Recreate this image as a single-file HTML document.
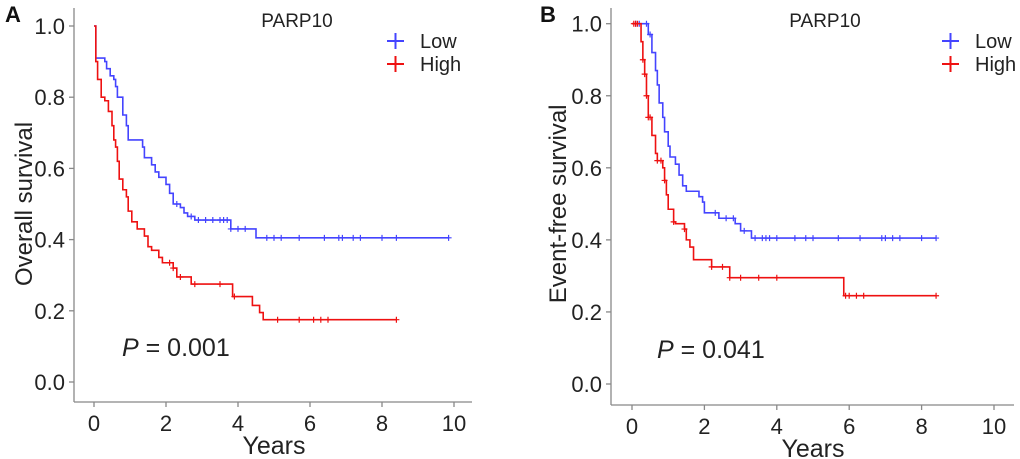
<!DOCTYPE html>
<html><head><meta charset="utf-8"><style>
html,body{margin:0;padding:0;background:#fff;}
svg{display:block;font-family:"Liberation Sans",Arial,sans-serif;}
</style></head><body>
<svg id="c" width="1020" height="459" viewBox="0 0 1020 459" xmlns="http://www.w3.org/2000/svg"></svg>
<script>
const xTicks=[0,2,4,6,8,10];
const yTicks=[0,0.2,0.4,0.6,0.8,1.0];
const yTickLabels=["0.0","0.2","0.4","0.6","0.8","1.0"];
const aLowT=[0,0.05,0.3,0.35,0.45,0.55,0.6,0.65,0.8,0.9,0.95,1.35,1.4,1.6,1.7,1.8,2.0,2.1,2.2,2.4,2.5,2.6,2.8,3.8,4.5,9.85];
const aLowS=[1.0,0.91,0.90,0.88,0.86,0.85,0.83,0.80,0.75,0.72,0.68,0.66,0.63,0.61,0.59,0.575,0.555,0.53,0.50,0.49,0.475,0.465,0.455,0.43,0.405,0.405];
const aLowC=[2.3,2.7,2.9,3.1,3.3,3.5,3.6,3.7,3.8,4.0,4.2,4.8,5.0,5.2,5.7,6.4,6.8,6.9,7.2,7.4,8.0,8.4,9.85];
const aHighT=[0,0.05,0.1,0.2,0.3,0.4,0.5,0.55,0.6,0.65,0.7,0.8,0.9,0.95,1.05,1.2,1.4,1.5,1.6,1.8,1.9,2.2,2.3,2.7,3.85,4.4,4.6,4.7,8.4];
const aHighS=[1.0,0.9,0.85,0.80,0.79,0.76,0.72,0.68,0.66,0.62,0.57,0.54,0.52,0.48,0.45,0.43,0.41,0.38,0.37,0.35,0.335,0.32,0.295,0.275,0.24,0.215,0.195,0.175,0.175];
const aHighC=[2.1,2.2,2.4,2.8,3.5,3.9,5.1,5.7,6.1,6.3,6.5,8.4];
const bLowT=[0,0.45,0.55,0.65,0.7,0.75,0.85,0.9,1.0,1.05,1.2,1.3,1.4,1.5,1.85,1.95,2.0,2.4,2.85,3.0,3.3,8.4];
const bLowS=[1.0,0.97,0.92,0.87,0.83,0.78,0.74,0.70,0.66,0.63,0.61,0.58,0.55,0.535,0.52,0.505,0.475,0.46,0.445,0.425,0.405,0.405];
const bLowC=[0.1,0.2,0.4,0.5,2.3,2.6,2.8,3.1,3.4,3.6,3.7,3.8,4.0,4.5,4.8,5.0,5.7,6.3,6.9,7.0,7.2,7.4,8.0,8.4];
const bHighT=[0,0.25,0.3,0.35,0.4,0.45,0.55,0.65,0.7,0.85,0.9,0.95,1.0,1.15,1.2,1.45,1.5,1.6,1.7,2.2,2.7,5.85,8.4];
const bHighS=[1.0,0.95,0.90,0.86,0.80,0.74,0.69,0.64,0.62,0.60,0.565,0.525,0.485,0.45,0.445,0.43,0.40,0.38,0.345,0.325,0.295,0.245,0.245];
const bHighC=[0.05,0.1,0.15,0.3,0.35,0.4,0.45,0.5,0.7,0.8,0.9,1.15,1.45,2.2,2.5,2.7,3.0,3.5,4.0,5.9,6.0,6.2,6.4,8.4];

const svg=document.getElementById('c');
const NS='http://www.w3.org/2000/svg';
function mk(tag,attrs,parent){const e=document.createElementNS(NS,tag);for(const k in attrs)e.setAttribute(k,attrs[k]);(parent||svg).appendChild(e);return e;}
function txt(s,attrs,parent){const e=mk('text',attrs,parent);e.textContent=s;return e;}
const BLUE='#4444ff',RED='#ee1111',GREY='#888';

function panel(cfg){
  const g=mk('g',{});
  
  
  const X=v=>cfg.x0+(cfg.x10-cfg.x0)*v/10;
  const Y=v=>cfg.y0+(cfg.y1-cfg.y0)*v;
  const ya=mk('line',{x1:cfg.ax,y1:8,x2:cfg.ax,y2:cfg.ay,stroke:GREY,'stroke-width':1.3},g);
  
  const xa=mk('line',{x1:cfg.ax,y1:cfg.ay,x2:cfg.axEnd,y2:cfg.ay,stroke:GREY,'stroke-width':1.3},g);
  
  yTicks.forEach((v,i)=>{
    mk('line',{x1:cfg.ax-5,y1:Y(v),x2:cfg.ax,y2:Y(v),stroke:GREY,'stroke-width':1.3},g);
    const t=txt(yTickLabels[i],{x:cfg.ax-9,y:Y(v)+8,'text-anchor':'end','font-size':22,fill:'#222'},g);
    
  });
  xTicks.forEach(v=>{
    mk('line',{x1:X(v),y1:cfg.ay,x2:X(v),y2:cfg.ay+5,stroke:GREY,'stroke-width':1.3},g);
    const t=txt(String(v),{x:X(v),y:cfg.ay+29,'text-anchor':'middle','font-size':22,fill:'#222'},g);
    
  });
  const xt=txt('Years',{x:(X(0)+X(10))/2,y:cfg.ay+52,'text-anchor':'middle','font-size':25,fill:'#222'},g);
  
  const yt=txt(cfg.ytitle,{x:0,y:0,'text-anchor':'middle','font-size':24,fill:'#222',transform:`translate(${cfg.ytx},${(Y(0)+Y(1))/2}) rotate(-90)`},g);
  
  const tt=txt('PARP10',{x:cfg.titleX,y:27,'text-anchor':'middle','font-size':19,fill:'#222'},g);
  
  const pl=txt('',{x:cfg.px,y:Y(0)-26,'font-size':25,fill:'#222'},g);
  
  const ip=mk('tspan',{'font-style':'italic'},pl);ip.textContent='P';
  const rp=mk('tspan',{},pl);rp.textContent=' = '+cfg.p;
  const lab=txt(cfg.letter,{x:cfg.lx,y:22,'font-size':22,'font-weight':'bold',fill:'#111'},g);
  
  function series(T,S,C,col,name){
    let d=`M${X(T[0])},${Y(S[0])}`;
    for(let i=1;i<T.length;i++){d+=`H${X(T[i])}V${Y(S[i])}`;}
    const p=mk('path',{d:d,fill:'none',stroke:col,'stroke-width':1.6},g);
    
    C.forEach(c=>{
      let s=S[0];for(let i=0;i<T.length;i++){if(T[i]<=c)s=S[i];}
      const m=mk('path',{d:`M${X(c)-3},${Y(s)}H${X(c)+3}M${X(c)},${Y(s)-3}V${Y(s)+3}`,stroke:col,'stroke-width':1.2},g);
      
    });
  }
  series(cfg.lowT,cfg.lowS,cfg.lowC,BLUE,'low');
  series(cfg.highT,cfg.highS,cfg.highC,RED,'high');
  [['Low',BLUE,41],['High',RED,64]].forEach(([n,col,y])=>{
    const lg=mk('g',{},g);
    
    mk('path',{d:`M${cfg.legX},${y}H${cfg.legX+17}M${cfg.legX+8.5},${y-8}V${y+8}`,stroke:col,'stroke-width':2},lg);
    txt(n,{x:cfg.legX+33,y:y+7,'font-size':20,fill:'#222'},lg);
  });
}
panel({name:'panel-a-overall-survival',x0:94,x10:454,y0:382,y1:26,ax:74,ay:402,axEnd:472,ytitle:'Overall survival',ytx:32,titleX:297,px:122,p:'0.001',letter:'A',lx:5,legX:387,
  lowT:aLowT,lowS:aLowS,lowC:aLowC,highT:aHighT,highS:aHighS,highC:aHighC});
panel({name:'panel-b-event-free-survival',x0:632,x10:994,y0:384,y1:23.7,ax:611,ay:405,axEnd:1014,ytitle:'Event-free survival',ytx:566,titleX:825,px:657,p:'0.041',letter:'B',lx:540,legX:942,
  lowT:bLowT,lowS:bLowS,lowC:bLowC,highT:bHighT,highS:bHighS,highC:bHighC});
</script>
</body></html>
